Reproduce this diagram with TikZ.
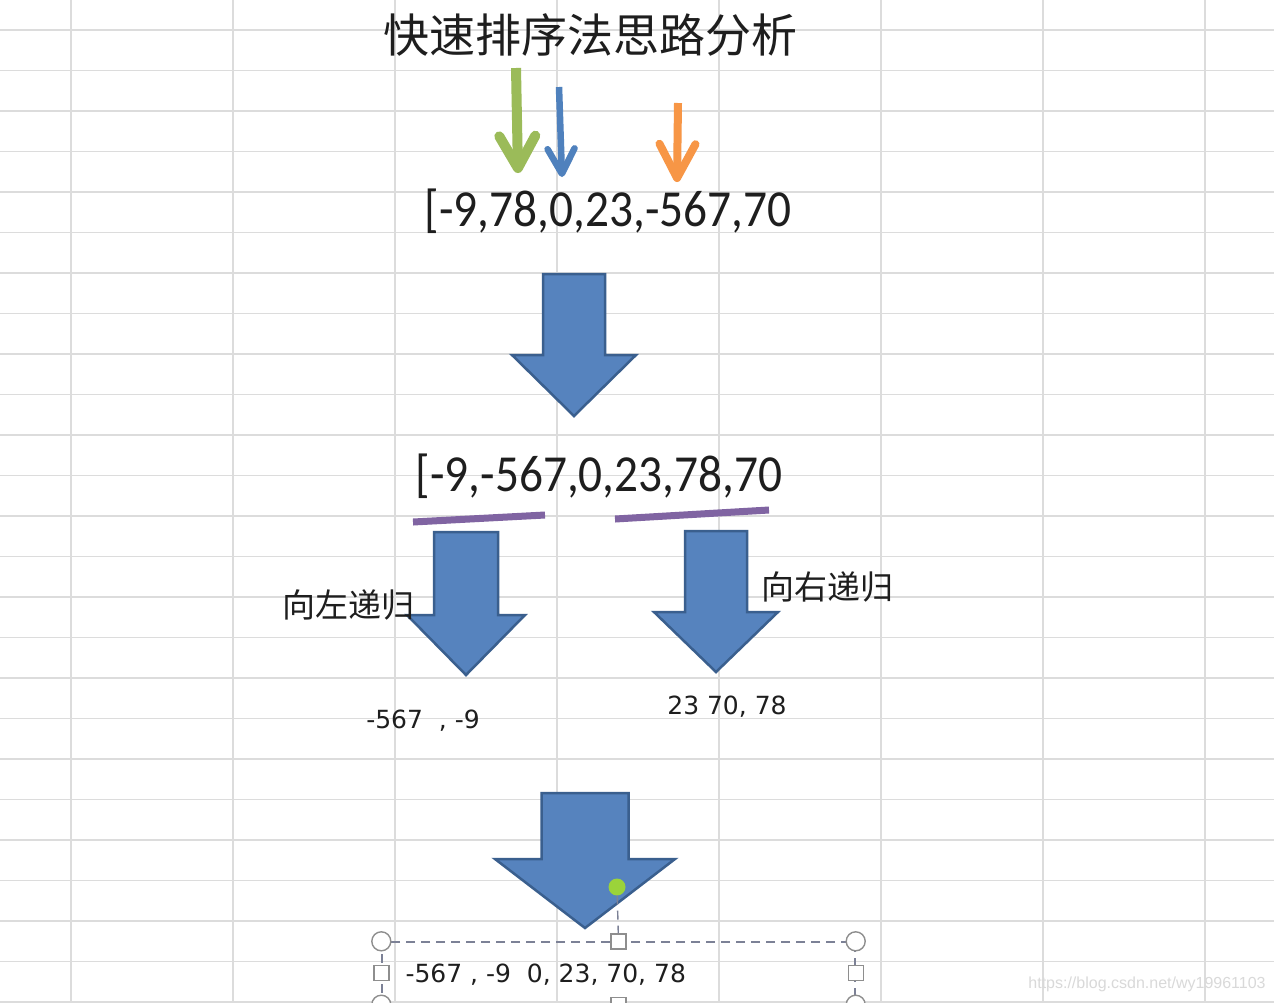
\documentclass[tikz,border=0pt]{standalone}
\usepackage{fontspec}
\usepackage{tikz}
\usetikzlibrary{arrows.meta}
\setmainfont{Carlito}
\newfontfamily\cjk{Noto Sans CJK SC}
\newfontfamily\numfont[FakeStretch=0.91]{Carlito}
\newfontfamily\smallnum{DejaVu Sans}
\newfontfamily\urlfont{Liberation Sans}

\definecolor{gridgray}{HTML}{DCDCDC}
\definecolor{inkgray}{HTML}{1E1E1E}
\definecolor{pgreen}{HTML}{9BBB59}
\definecolor{pblue}{HTML}{4F81BD}
\definecolor{porange}{HTML}{F79646}
\definecolor{ppurple}{HTML}{8064A2}
\definecolor{arrowfill}{HTML}{5683BE}
\definecolor{arrowedge}{HTML}{3A5F8E}
\definecolor{selgray}{HTML}{7C8196}
\definecolor{handlegray}{HTML}{8E8E8E}
\definecolor{rotgreen}{HTML}{9BD33A}

\tikzset{
  cell/.style={draw=gridgray, line width=1.6pt},
  bigarrow/.style={fill=arrowfill, draw=arrowedge, line width=2.5pt, line join=miter},
  underline/.style={draw=ppurple, line width=7pt},
  selbox/.style={draw=selgray, line width=1.4pt, dash pattern=on 9pt off 6pt},
  handlecirc/.style={circle, draw=handlegray, fill=white, line width=1.4pt, minimum size=19pt, inner sep=0pt},
  handlesq/.style={rectangle, draw=handlegray, fill=white, line width=1.4pt, minimum size=15pt, inner sep=0pt},
  rotdot/.style={circle, fill=rotgreen, minimum size=17pt, inner sep=0pt}
}

\newcommand{\blockarrow}[6]{%
  \draw[bigarrow] ({#1-#3},#2) -- ({#1+#3},#2) -- ({#1+#3},#4) -- ({#1+#5},#4)
    -- (#1,#6) -- ({#1-#5},#4) -- ({#1-#3},#4) -- cycle;}

\begin{document}
\begin{tikzpicture}[x=1pt, y=-1pt, text=inkgray]
\useasboundingbox (0,0) rectangle (1274,1002);
\clip (0,0) rectangle (1274,1002);
\fill[white] (0,0) rectangle (1274,1002);

\foreach \x in {71,233,...,1205}
{
    \draw[cell] (\x,0) -- (\x,1002);
};
\foreach \k in {0,...,24}
{
    \draw[cell] (0,{30+40.5*\k}) -- (1274,{30+40.5*\k});
};

\node[font=\cjk\fontsize{46}{50}\selectfont] (title) at (590,35) {快速排序法思路分析};

\coordinate (gtop) at (516,68);
\coordinate (gtip) at (518,173);
\coordinate (btop) at (559,87);
\coordinate (btip) at (562,177);
\coordinate (otop) at (678,103);
\coordinate (otip) at (677,182);
\draw[draw=pgreen, line width=10pt, -{Straight Barb[round, length=32pt, width=36pt]}] (gtop) -- (gtip);
\draw[draw=pblue, line width=6.5pt, -{Straight Barb[round, length=25pt, width=27pt]}] (btop) -- (btip);
\draw[draw=porange, line width=8pt, -{Straight Barb[round, length=34pt, width=36pt]}] (otop) -- (otip);

\node[font=\numfont\fontsize{52}{56}\selectfont] (start) at (608,211) {[-9,78,0,23,-567,70};

\blockarrow{574}{274}{31}{355}{62}{416}

\node[font=\numfont\fontsize{52}{56}\selectfont] (part) at (599,476) {[-9,-567,0,23,78,70};
\draw[underline] (413,522) -- (545,515);
\draw[underline] (615,519) -- (769,510);

\blockarrow{466}{532}{32}{615}{59}{675}
\blockarrow{716}{531}{31}{612}{62}{672}

\node[font=\cjk\fontsize{33}{36}\selectfont] (goleft) at (348,605) {向左递归};
\node[font=\cjk\fontsize{33}{36}\selectfont] (goright) at (827,587) {向右递归};

\node[font=\smallnum\fontsize{25}{28}\selectfont] (leftres) at (423,721) {-567\ \ , -9};
\node[font=\smallnum\fontsize{25}{28}\selectfont] (rightres) at (727,707) {23 70, 78};

\blockarrow{585}{793}{43.5}{859}{90}{928}

\node[selbox, minimum width=473pt, minimum height=62pt] (sel) at (618.5,973) {};
\node[font=\smallnum\fontsize{25}{28}\selectfont, anchor=west] (final) at (402,975) {-567 , -9\ \ 0, 23, 70, 78};
\foreach \a in {north west, north east, south west, south east}
{
    \node[handlecirc] at (sel.\a) {};
};
\foreach \a in {west, east, south}
{
    \node[handlesq] at (sel.\a) {};
};
\node[handlesq] (hn) at (sel.north) {};
\node[rotdot] (rot) at (617,887) {};
\draw[selbox] (rot) -- (hn);

\node[font=\urlfont\fontsize{16}{18}\selectfont, text=gray!30] (mark) at (1147,984) {https://blog.csdn.net/wy19961103};
\end{tikzpicture}
\end{document}
